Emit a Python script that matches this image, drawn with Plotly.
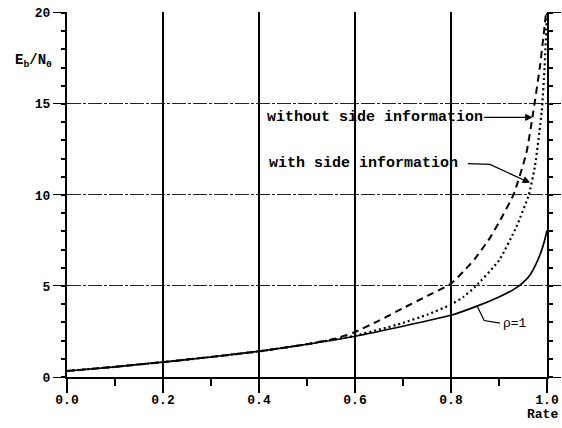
import plotly.graph_objects as go

# ---- data ----
rate_rho1 = [0.0, 0.1, 0.2, 0.3, 0.4, 0.5, 0.6, 0.7, 0.8, 0.85, 0.9, 0.93, 0.95, 0.965, 0.978, 0.988, 0.995, 1.0]
ebn0_rho1 = [0.33, 0.56, 0.82, 1.1, 1.41, 1.8, 2.24, 2.79, 3.39, 3.85, 4.4, 4.8, 5.18, 5.62, 6.25, 6.9, 7.5, 8.05]

rate_without = [0.0, 0.1, 0.2, 0.3, 0.4, 0.5, 0.56, 0.6, 0.65, 0.7, 0.75, 0.8, 0.826, 0.85, 0.88, 0.9, 0.93, 0.957, 0.971, 0.985, 0.993, 0.998]
ebn0_without = [0.33, 0.56, 0.82, 1.1, 1.41, 1.8, 2.12, 2.47, 3.1, 3.78, 4.45, 5.13, 5.8, 6.5, 7.6, 8.5, 10.0, 12.3, 14.5, 17.0, 18.8, 20.0]

rate_with = [0.0, 0.1, 0.2, 0.3, 0.4, 0.5, 0.6, 0.65, 0.7, 0.75, 0.8, 0.826, 0.85, 0.9, 0.936, 0.962, 0.975, 0.989, 0.995, 1.0]
ebn0_with = [0.33, 0.56, 0.82, 1.1, 1.41, 1.8, 2.27, 2.6, 2.97, 3.42, 3.98, 4.4, 4.95, 6.4, 8.24, 10.0, 11.6, 14.6, 17.0, 20.0]

x_ticks = [0.0, 0.2, 0.4, 0.6, 0.8, 1.0]
x_ticktext = ["0.0", "0.2", "0.4", "0.6", "0.8", "1.0"]
y_ticks = [0, 5, 10, 15, 20]
y_ticktext = ["0", "5", "10", "15", "20"]

FONT = "Liberation Mono, Courier New, monospace"
INK = "black"

fig = go.Figure()
fig.add_trace(go.Scatter(x=rate_without, y=ebn0_without, mode="lines",
                         line=dict(color=INK, width=2, dash="7px,5px", shape="spline", smoothing=0.5),
                         name="without side information", showlegend=False))
fig.add_trace(go.Scatter(x=rate_with, y=ebn0_with, mode="lines",
                         line=dict(color=INK, width=2.2, dash="2px,3px", shape="spline", smoothing=0.5),
                         name="with side information", showlegend=False))
fig.add_trace(go.Scatter(x=rate_rho1, y=ebn0_rho1, mode="lines",
                         line=dict(color=INK, width=1.7, shape="spline", smoothing=0.5),
                         name="rho=1", showlegend=False))

fig.update_layout(
    width=562, height=428,
    margin=dict(l=67, r=15, t=12, b=51, autoexpand=False),
    paper_bgcolor="white", plot_bgcolor="white",
    font=dict(family=FONT, color=INK),
    xaxis=dict(
        range=[0, 1.0], tickvals=x_ticks, ticktext=x_ticktext,
        automargin=False,
        showgrid=True, gridcolor=INK, gridwidth=2,
        showline=True, linecolor=INK, linewidth=2, mirror=False,
        ticks="outside", ticklen=14, tickwidth=2, tickcolor=INK,
        ticklabelstandoff=-5,
        tickfont=dict(family=FONT, size=13, weight="bold", color=INK),
        minor=dict(dtick=0.1, ticks="outside", ticklen=7, tickwidth=2, tickcolor=INK, showgrid=False),
        zeroline=False,
    ),
    yaxis=dict(
        range=[0, 20.05], tickvals=y_ticks, ticktext=y_ticktext,
        automargin=False,
        showgrid=True, gridcolor="#222", gridwidth=1, griddash="14px,2px,3px,2px",
        showline=True, linecolor=INK, linewidth=2, mirror="all",
        ticks="outside", ticklen=12, tickwidth=1, tickcolor=INK,
        tickfont=dict(family=FONT, size=13, weight="bold", color=INK),
        minor=dict(dtick=1, ticks="outside", ticklen=4, tickwidth=1.5, tickcolor=INK, showgrid=False),
        zeroline=False,
    ),
)

LEAD = dict(color=INK, width=1.2)

# "without side information" label and leader
fig.add_annotation(x=0.4125, y=14.26, xref="x", yref="y", text="without side information",
                   showarrow=False, xanchor="left", yanchor="middle",
                   font=dict(family=FONT, size=15, weight="bold", color=INK))
fig.add_shape(type="line", xref="x", yref="y", x0=0.869, y0=14.26, x1=0.958, y1=14.26, line=LEAD)
fig.add_shape(type="path", xref="x", yref="y",
              path="M 0.968 14.26 L 0.9555 14.42 L 0.9555 14.10 Z",
              line=dict(color=INK, width=1), fillcolor=INK)

# "with side information" label and leader
fig.add_annotation(x=0.417, y=11.72, xref="x", yref="y", text="with side information",
                   showarrow=False, xanchor="left", yanchor="middle",
                   font=dict(family=FONT, size=15, weight="bold", color=INK))
fig.add_shape(type="path", xref="x", yref="y",
              path="M 0.835 11.72 L 0.881 11.68 L 0.955 10.78",
              line=LEAD)
fig.add_shape(type="path", xref="x", yref="y",
              path="M 0.963 10.70 L 0.949 10.686 L 0.9542 10.985 Z",
              line=dict(color=INK, width=1), fillcolor=INK)

# rho = 1 label and leader
fig.add_shape(type="path", xref="x", yref="y",
              path="M 0.854 3.93 L 0.869 3.1 L 0.902 2.96",
              line=LEAD)
fig.add_annotation(x=0.905, y=2.96, xref="x", yref="y", text="\u03c1=1",
                   showarrow=False, xanchor="left", yanchor="middle",
                   font=dict(family=FONT, size=13, color=INK))

fig.add_annotation(x=-0.069, y=0.865, xref="paper", yref="paper",
                   text="E<sub>b</sub>/N<sub>0</sub>", showarrow=False,
                   xanchor="center", yanchor="middle",
                   font=dict(family=FONT, size=14, weight="bold", color=INK))
fig.add_annotation(x=0.99, y=-0.102, xref="paper", yref="paper", text="Rate",
                   showarrow=False, xanchor="center", yanchor="middle",
                   font=dict(family=FONT, size=13, weight="bold", color=INK))

fig.write_html("out.html", config={"displayModeBar": False},
               post_script="document.body.style.margin='0';document.body.style.padding='0';")
